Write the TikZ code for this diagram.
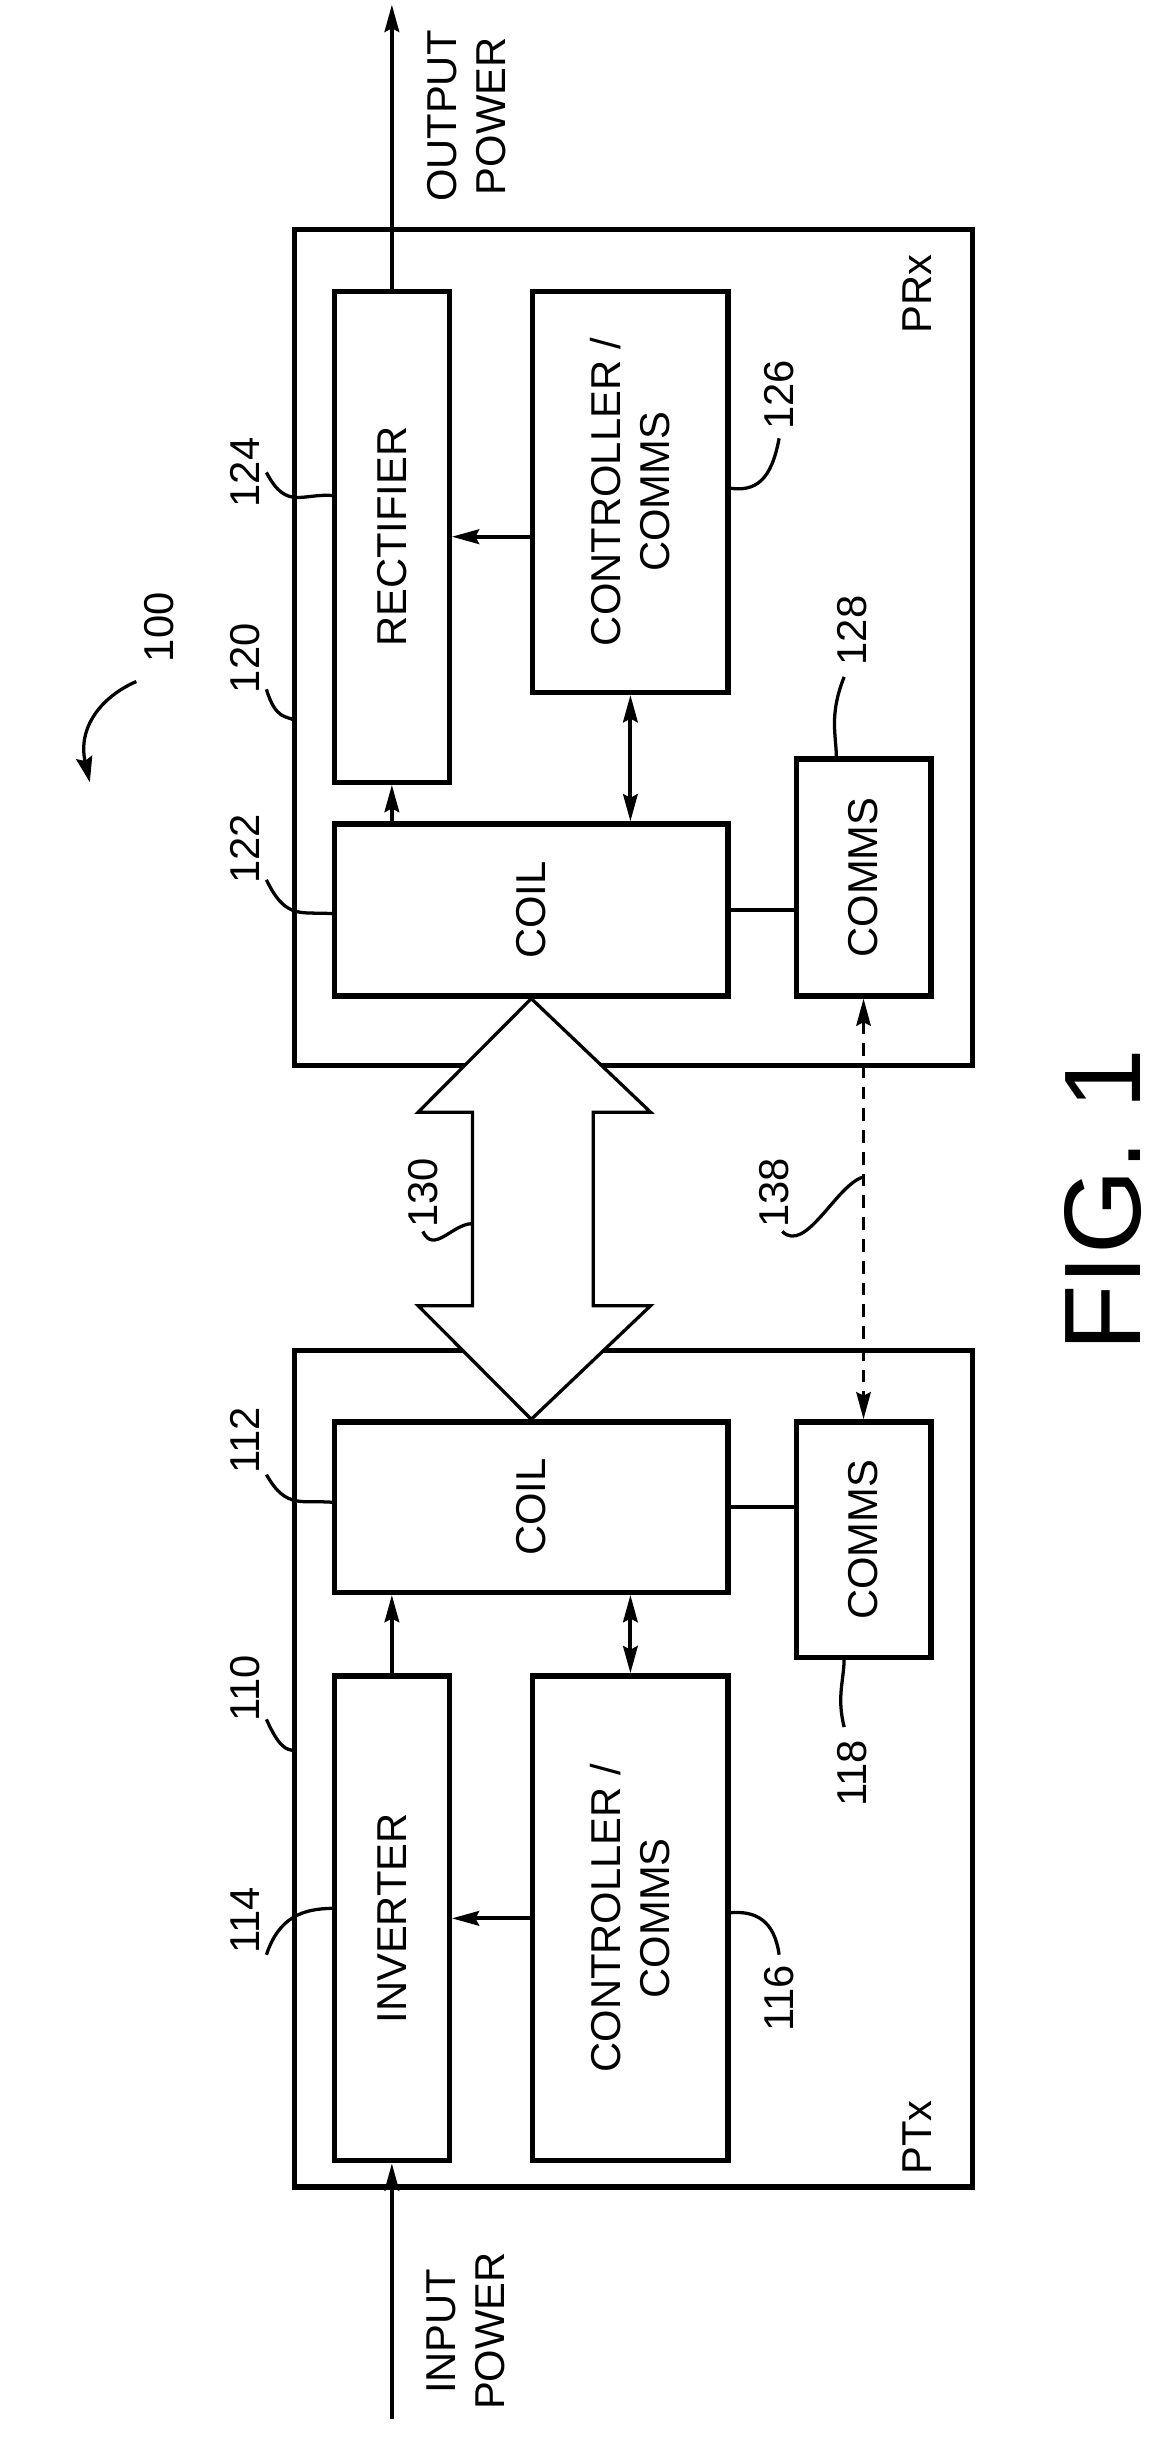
\documentclass[tikz,border=0pt]{standalone}
\usepackage{fontspec}
\setmainfont{Liberation Sans}
\usetikzlibrary{arrows.meta,calc,positioning}
\tikzset{
  blk/.style={draw, line width=2.9pt, inner sep=0pt},
  rot/.style={rotate=90, font=\fontsize{23}{27}\selectfont, align=center},
  num/.style={rotate=90, font=\fontsize{23}{27}\selectfont},
  arr/.style={line width=2.2pt, -{Stealth[length=15pt,width=8pt,inset=2pt]}},
  darr/.style={line width=2.2pt, {Stealth[length=15pt,width=8pt,inset=2pt]}-{Stealth[length=15pt,width=8pt,inset=2pt]}},
  lead/.style={line width=1.8pt},
}
\begin{document}
\begin{tikzpicture}[x=0.3mm, y=-0.3mm]
\useasboundingbox (0,0) rectangle (750,1574);

% outer boxes
\node[blk, minimum width=438*0.3mm, minimum height=540*0.3mm] (prx) at (409,418) {};
\node[blk, minimum width=438*0.3mm, minimum height=540*0.3mm] (ptx) at (409,1142) {};
\node[num] at (592,190) {PRx};
\node[num] at (592,1380) {PTx};

% receiver
\node[blk, minimum width=74*0.3mm, minimum height=317*0.3mm] (rect) at (253,346.5) {};
\node[rot] at (rect) {RECTIFIER};
\node[blk, minimum width=126*0.3mm, minimum height=259*0.3mm] (ctlr) at (407,317.5) {};
\node[rot] at (ctlr) {CONTROLLER /\\COMMS};
\node[blk, minimum width=254*0.3mm, minimum height=111*0.3mm] (coilr) at (343,587.5) {};
\node[rot] at (coilr) {COIL};
\node[blk, minimum width=87*0.3mm, minimum height=153*0.3mm] (comr) at (557.5,566.5) {};
\node[rot] at (comr) {COMMS};

% transmitter
\node[blk, minimum width=254*0.3mm, minimum height=110*0.3mm] (coilt) at (343,973) {};
\node[rot] at (coilt) {COIL};
\node[blk, minimum width=87*0.3mm, minimum height=152*0.3mm] (comt) at (557.5,994) {};
\node[rot] at (comt) {COMMS};
\node[blk, minimum width=74*0.3mm, minimum height=313*0.3mm] (inv) at (253,1238.5) {};
\node[rot] at (inv) {INVERTER};
\node[blk, minimum width=126*0.3mm, minimum height=313*0.3mm] (ctlt) at (407,1238.5) {};
\node[rot] at (ctlt) {CONTROLLER /\\COMMS};

% connectors
\coordinate (out) at (253,3);
\coordinate (in) at (253,1562);
\draw[arr] (rect.north) -- (out);
\node[rot] at (301,75) {OUTPUT\\POWER};
\draw[arr] (in) -- (inv.south);
\node[rot] at (301,1505) {INPUT\\POWER};
\draw[arr] (rect.south |- coilr.north) -- (rect.south);
\draw[arr] (ctlr.west |- rect) -- (rect.east);
\draw[darr] (ctlr.south) -- (ctlr.south |- coilr.north);
\draw[line width=2.2pt] (coilr.east) -- (comr.west |- coilr);
\draw[arr] (inv.north) -- (inv.north |- coilt.south);
\draw[arr] (ctlt.west) -- (inv.east);
\draw[darr] (ctlt.north) -- (ctlt.north |- coilt.south);
\draw[line width=2.2pt] (coilt.east) -- (comt.west |- coilt);
\draw[darr, line width=1.6pt, dash pattern=on 7pt off 5pt] (comr.south) -- (comt.north);

% power link
\draw[line width=1.8pt, fill=white] (coilr.south) -- (420,718) -- (383,718) -- (383,843) -- (420,843)
  -- (coilt.north) -- (270,843) -- (305,843) -- (305,718) -- (270,718) -- cycle;

% reference numerals
\node[num] (n124) at (158,305) {124};
\draw[lead] (172,305) .. controls (185,330) and (195,318) .. (216,320);
\node[num] (n120) at (158,425) {120};
\draw[lead] (172,445) .. controls (178,465) and (185,462) .. (190,465);
\node[num] (n122) at (158,548) {122};
\draw[lead] (172,568) .. controls (185,595) and (195,588) .. (216,590);
\node[num] (n126) at (503,255) {126};
\draw[lead] (503,283) .. controls (498,310) and (488,318) .. (470,315);
\node[num] (n128) at (550,407) {128};
\draw[lead] (545,437) .. controls (535,462) and (540,475) .. (540,490);
\node[num] (n100) at (103,405) {100};
\draw[line width=1.8pt, -{Stealth[length=14pt,width=9pt,inset=2pt]}] (88,440) .. controls (65,450) and (50,470) .. (58,505);
\node[num] (n130) at (273,770) {130};
\draw[lead] (273,795) .. controls (280,810) and (292,790) .. (305,790);
\node[num] (n138) at (500,770) {138};
\draw[lead] (505,795) .. controls (520,810) and (540,765) .. (557,760);
\node[num] (n112) at (158,930) {112};
\draw[lead] (172,952) .. controls (185,975) and (195,968) .. (216,970);
\node[num] (n110) at (158,1090) {110};
\draw[lead] (172,1110) .. controls (180,1128) and (185,1130) .. (190,1130);
\node[num] (n114) at (158,1240) {114};
\draw[lead] (172,1262) .. controls (180,1238) and (195,1232) .. (216,1232);
\node[num] (n116) at (503,1290) {116};
\draw[lead] (503,1262) .. controls (500,1240) and (488,1233) .. (470,1235);
\node[num] (n118) at (550,1145) {118};
\draw[lead] (545,1115) .. controls (540,1095) and (545,1085) .. (545,1070);

\node[rotate=90, font=\fontsize{60}{62}\selectfont] (fig) at (712,775) {FIG. 1};
\end{tikzpicture}
\end{document}
